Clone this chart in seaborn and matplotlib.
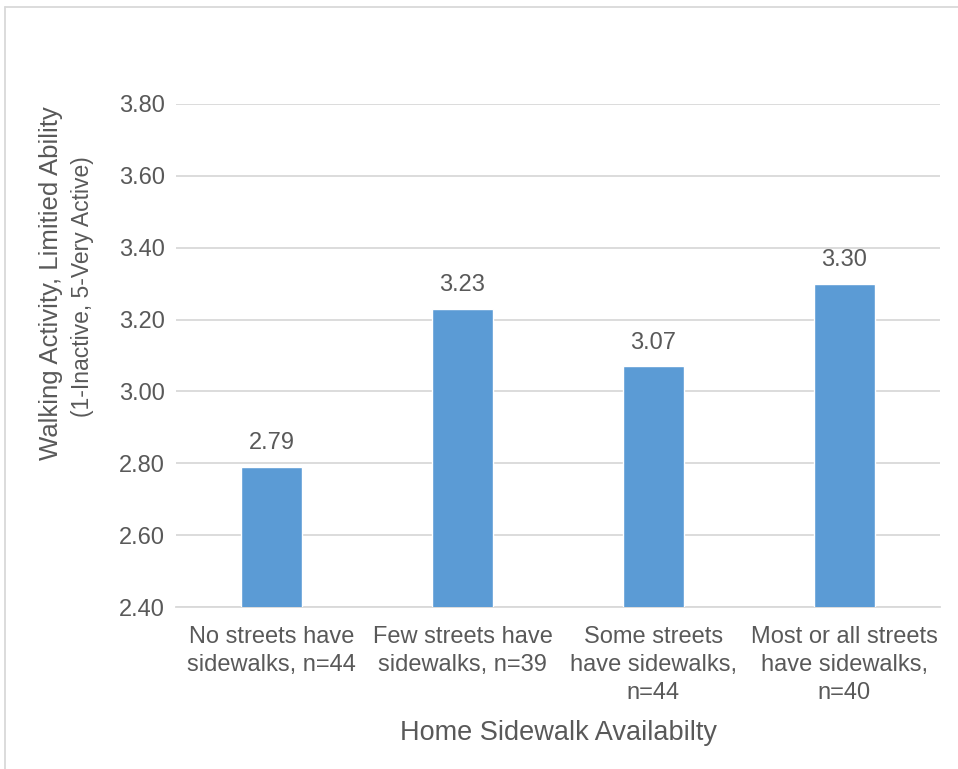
import matplotlib
matplotlib.use("Agg")
import matplotlib.pyplot as plt
import seaborn as sns
import pandas as pd
from matplotlib.lines import Line2D

categories = ["No streets have\nsidewalks, n=44",
              "Few streets have\nsidewalks, n=39",
              "Some streets\nhave sidewalks,\nn=44",
              "Most or all streets\nhave sidewalks,\nn=40"]
values = [2.79, 3.23, 3.07, 3.30]
yticks = [2.40, 2.60, 2.80, 3.00, 3.20, 3.40, 3.60, 3.80]

sns.set_theme(style="white")
plt.rcParams['font.family'] = ['Liberation Sans', 'DejaVu Sans']

TEXT = "#595959"
df = pd.DataFrame({"cat": categories, "val": values})

fig = plt.figure(figsize=(9.58, 7.69), dpi=100)
ax = fig.add_axes([176/958, 1-607/769, (940-176)/958, (607-104)/769])

sns.barplot(data=df, x="cat", y="val", color="#5B9BD5", saturation=1,
            width=0.32, ax=ax, zorder=3)
ax.set_ylim(2.4, 3.8)
ax.set_yticks(yticks)
ax.set_yticklabels([f"{t:.2f}" for t in yticks], fontsize=17, color=TEXT)
ax.tick_params(axis='y', length=0, pad=8)
ax.tick_params(axis='x', length=0, pad=14)
ax.set_xticks(range(len(categories)))
ax.set_xticklabels(categories, fontsize=17, color=TEXT, linespacing=1.35)
ax.yaxis.grid(True, color="#D9D9D9", linewidth=1.3, zorder=0)
for s in ["top", "right", "left"]:
    ax.spines[s].set_visible(False)
ax.spines["bottom"].set_color("#D9D9D9")
ax.spines["bottom"].set_linewidth(1.3)
ax.set_xlabel("Home Sidewalk Availabilty", fontsize=19.5, color=TEXT, labelpad=11)
ax.set_ylabel("")

for i, v in enumerate(values):
    ax.annotate(f"{v:.2f}", (i, v), xytext=(0, 9), textcoords="offset points",
                ha="center", va="bottom", fontsize=17, color=TEXT)

fig.text(51/958, 1-283/769, "Walking Activity, Limitied Ability", rotation=90,
         ha="center", va="center", fontsize=18.5, color=TEXT)
fig.text(83/958, 1-287/769, "(1-Inactive, 5-Very Active)", rotation=90,
         ha="center", va="center", fontsize=16.5, color=TEXT)

# outer chart border
fig.add_artist(Line2D([5/958, 5/958], [0, 1-7/769], transform=fig.transFigure,
                      color="#D9D9D9", linewidth=1.3))
fig.add_artist(Line2D([5/958, 1], [1-7/769, 1-7/769], transform=fig.transFigure,
                      color="#D9D9D9", linewidth=1.3))

fig.savefig("out.png", dpi=100, facecolor="white")
